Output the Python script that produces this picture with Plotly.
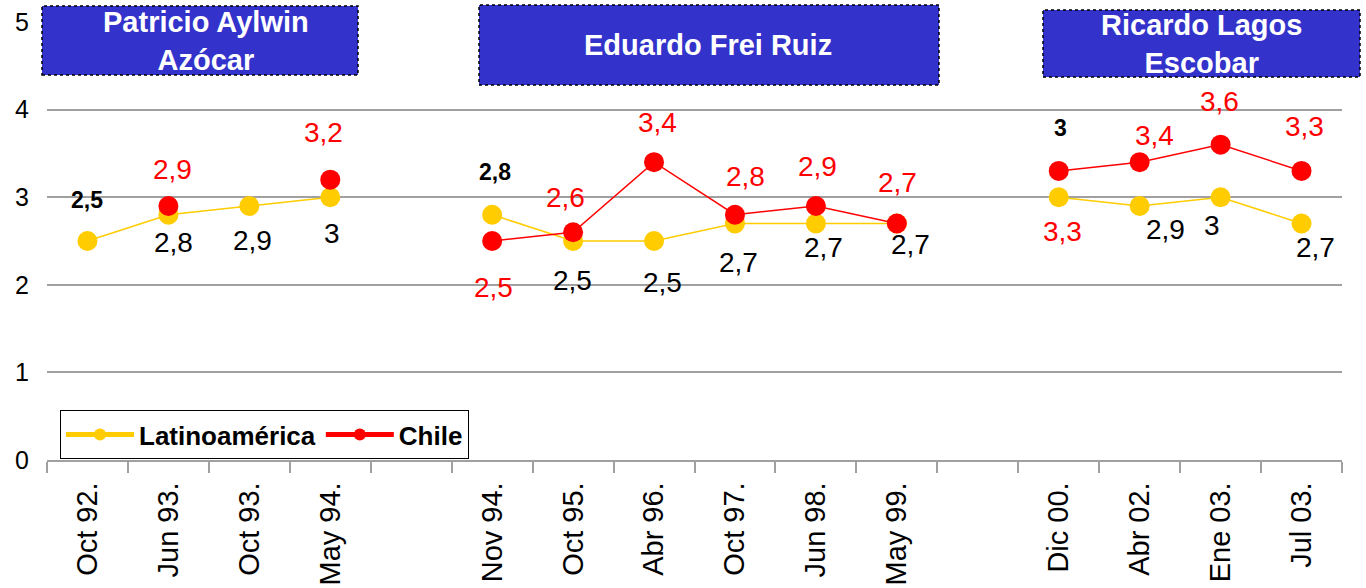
import plotly.graph_objects as go

# ---------------- data ----------------
categories = ["Oct 92.", "Jun 93.", "Oct 93.", "May 94.", " ",
              "Nov 94.", "Oct 95.", "Abr 96.", "Oct 97.", "Jun 98.", "May 99.", "  ",
              "Dic 00.", "Abr 02.", "Ene 03.", "Jul 03."]
tick_labels = ["Oct 92.", "Jun 93.", "Oct 93.", "May 94.", "",
               "Nov 94.", "Oct 95.", "Abr 96.", "Oct 97.", "Jun 98.", "May 99.", "",
               "Dic 00.", "Abr 02.", "Ene 03.", "Jul 03."]
latam = [2.5, 2.8, 2.9, 3.0, None,
         2.8, 2.5, 2.5, 2.7, 2.7, 2.7, None,
         3.0, 2.9, 3.0, 2.7]
chile = [None, 2.9, None, 3.2, None,
         2.5, 2.6, 3.4, 2.8, 2.9, 2.7, None,
         3.3, 3.4, 3.6, 3.3]
presidents = ["Patricio Aylwin<br>Azócar", "Eduardo Frei Ruiz", "Ricardo Lagos<br>Escobar"]

# ---------------- label placement (pixels) ----------------
latam_off = [(0, 41), (5, -28), (3, -35), (2, -36), None,
             (3, 43), (-1, -39), (8, -41), (4, -39), (8, -24), (14, -21), None,
             (2, 69), (26, -24), (-9, -28), (14, -24)]
latam_bold = [True, False, False, False, False,
              True, False, False, False, False, False, False,
              True, False, False, False]
chile_off = [None, (4, 36), None, (-7, 47), None,
             (1, -46), (-8, 35), (3, 40), (11, 38), (2, 39), (1, 41), None,
             (4, -61), (15, 27), (-1, 43), (3, 44)]

W, H = 1366, 588
L, R, T, B = 47, 1342, 22, 460
YELLOW = "#FFCC00"
RED = "#FF0000"
BLUE = "#3333CC"
FONT = "Liberation Sans, Arial, sans-serif"


def px(x):
    return (x - L) / (R - L)


def py(y):
    return (B - y) / (B - T)


def fmt(v):
    return f"{v:g}".replace(".", ",")


fig = go.Figure()
fig.add_trace(go.Scatter(
    x=categories, y=latam, name="Latinoamérica", mode="lines+markers",
    line=dict(color=YELLOW, width=1.5),
    marker=dict(color=YELLOW, size=20),
    connectgaps=False, cliponaxis=False,
))
fig.add_trace(go.Scatter(
    x=categories, y=chile, name="Chile", mode="lines+markers",
    line=dict(color=RED, width=1.5),
    marker=dict(color=RED, size=20),
    connectgaps=False, cliponaxis=False,
))

annotations = []
for cat, v, off, bold in zip(categories, latam, latam_off, latam_bold):
    if v is None:
        continue
    annotations.append(dict(
        x=cat, y=v, xref="x", yref="y", text=fmt(v), showarrow=False,
        xshift=off[0], yshift=off[1],
        font=dict(family=FONT, size=23 if bold else 28, color="black",
                  weight="bold" if bold else "normal"),
    ))
for cat, v, off in zip(categories, chile, chile_off):
    if v is None:
        continue
    annotations.append(dict(
        x=cat, y=v, xref="x", yref="y", text=fmt(v), showarrow=False,
        xshift=off[0], yshift=off[1],
        font=dict(family=FONT, size=28, color=RED),
    ))

# president boxes (pixel rectangles) and text centers
boxes = [(42, 6, 358, 75), (479, 5, 939, 85), (1043, 10, 1360, 77)]
text_centers = [(206, 41), (708, 45), (1201, 44)]
shapes = []
for (x0, y0, x1, y1), name, (tx, ty) in zip(boxes, presidents, text_centers):
    shapes.append(dict(
        type="rect", xref="paper", yref="paper",
        x0=px(x0), x1=px(x1), y0=py(y1), y1=py(y0),
        fillcolor=BLUE, line=dict(color="black", width=1.5, dash="dot"),
        layer="above",
    ))
    annotations.append(dict(
        x=px(tx), y=py(ty), xref="paper", yref="paper", text=name,
        showarrow=False, xanchor="center", yanchor="middle",
        font=dict(family=FONT, size=29, color="white", weight="bold"),
    ))

fig.update_layout(
    width=W, height=H,
    margin=dict(l=L, r=W - R, t=T, b=H - B, pad=0, autoexpand=False),
    paper_bgcolor="white", plot_bgcolor="white",
    showlegend=True,
    legend=dict(
        orientation="h", x=px(60), y=py(459), xanchor="left", yanchor="bottom",
        bgcolor="white", bordercolor="black", borderwidth=1,
        font=dict(family=FONT, size=26, color="black", weight="bold"),
        itemsizing="constant", itemwidth=68,
    ),
    shapes=shapes,
    annotations=annotations,
    xaxis=dict(
        type="category", categoryorder="array", categoryarray=categories,
        tickmode="array", tickvals=categories, ticktext=tick_labels,
        tickangle=-90, tickson="boundaries", automargin=False,
        ticks="outside", ticklen=11, tickcolor="#A0A0A0", tickwidth=1.5,
        showline=True, linecolor="#A0A0A0", linewidth=1.5,
        showgrid=False, ticklabelstandoff=9,
        tickfont=dict(family=FONT, size=29, color="black"),
        range=[-0.5, len(categories) - 0.5],
    ),
    yaxis=dict(
        range=[0, 5], tickvals=[0, 1, 2, 3, 4, 5], automargin=False,
        showgrid=True, gridcolor="#A0A0A0", gridwidth=1.5,
        zeroline=False, showline=False, ticks="",
        tickfont=dict(family=FONT, size=25, color="black"),
        ticklabelstandoff=17,
    ),
)

fig.write_html(
    "out.html",
    config={"displayModeBar": False},
    post_script="document.body.style.margin='0';document.body.style.overflow='hidden';",
)
